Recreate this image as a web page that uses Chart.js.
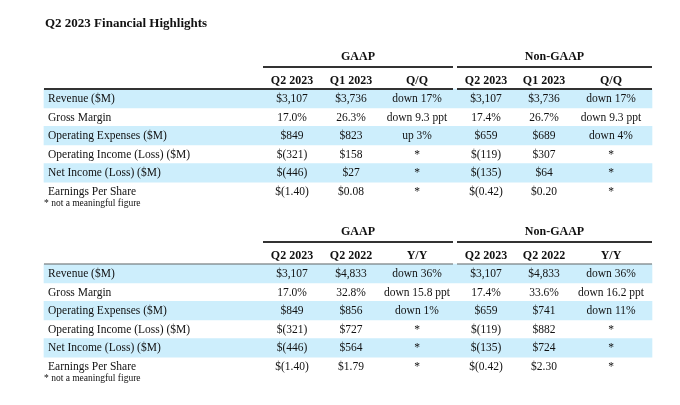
<!DOCTYPE html>
<html>
<head>
<meta charset="utf-8">
<title>Q2 2023 Financial Highlights</title>
<script src="https://cdn.jsdelivr.net/npm/chart.js@4/dist/chart.umd.min.js"></script>
<style>
    html, body { margin: 0; padding: 0; background: #ffffff; }
    #wrapper { width: 680px; height: 405px; }
</style>
</head>
<body>
<div id="wrapper"><canvas id="highlights" width="680" height="405"></canvas></div>
<script>
(function() {
    'use strict';

    // Table content
    const title = 'Q2 2023 Financial Highlights';
    const footnote = '* not a meaningful figure';
    const groupLabels = ['GAAP', 'Non-GAAP'];
    const rowLabels = [
        'Revenue ($M)',
        'Gross Margin',
        'Operating Expenses ($M)',
        'Operating Income (Loss) ($M)',
        'Net Income (Loss) ($M)',
        'Earnings Per Share'
    ];
    const qoqHeaders = ['Q2 2023', 'Q1 2023', 'Q/Q'];
    const yoyHeaders = ['Q2 2023', 'Q2 2022', 'Y/Y'];

    const gaapQ2_2023 = ['$3,107', '17.0%', '$849', '$(321)', '$(446)', '$(1.40)'];
    const gaapQ1_2023 = ['$3,736', '26.3%', '$823', '$158', '$27', '$0.08'];
    const gaapQoQ = ['down 17%', 'down 9.3 ppt', 'up 3%', '*', '*', '*'];
    const nonGaapQ2_2023 = ['$3,107', '17.4%', '$659', '$(119)', '$(135)', '$(0.42)'];
    const nonGaapQ1_2023 = ['$3,736', '26.7%', '$689', '$307', '$64', '$0.20'];
    const nonGaapQoQ = ['down 17%', 'down 9.3 ppt', 'down 4%', '*', '*', '*'];

    const gaapQ2_2022 = ['$4,833', '32.8%', '$856', '$727', '$564', '$1.79'];
    const gaapYoY = ['down 36%', 'down 15.8 ppt', 'down 1%', '*', '*', '*'];
    const nonGaapQ2_2022 = ['$4,833', '33.6%', '$741', '$882', '$724', '$2.30'];
    const nonGaapYoY = ['down 36%', 'down 16.2 ppt', 'down 11%', '*', '*', '*'];

    const tables = [
        {
            headers: qoqHeaders.concat(qoqHeaders),
            columns: [gaapQ2_2023, gaapQ1_2023, gaapQoQ, nonGaapQ2_2023, nonGaapQ1_2023, nonGaapQoQ]
        },
        {
            headers: yoyHeaders.concat(yoyHeaders),
            columns: [gaapQ2_2023, gaapQ2_2022, gaapYoY, nonGaapQ2_2023, nonGaapQ2_2022, nonGaapYoY]
        }
    ];

    // Geometry, in scale units (the scales map one unit to one pixel)
    const layout = {
        firstRow: [99, 274],
        rowPitch: 18.6,
        groupOffset: -42,
        groupRuleOffset: -32,
        headerOffset: -18,
        headerRuleOffset: -10,
        footOffset: 11,
        left: 44,
        right: 652,
        labelX: 48,
        colX: [292, 351, 417, 486, 544, 611],
        groupSpans: [[263, 453], [457, 652]],
        titleX: 45,
        titleY: 24
    };

    const colors = {
        band: '#cdeefc',
        text: '#111111',
        rule: '#333333',
        thinRule: '#666666'
    };

    const serif = '"Liberation Serif", "Times New Roman", serif';

    function rowY(t, i) {
        return layout.firstRow[t] + i * layout.rowPitch;
    }

    // Shaded bands on every other row, drawn as floating horizontal bars
    const bands = [];
    tables.forEach(function(tbl, t) {
        rowLabels.forEach(function(label, i) {
            if (i % 2 === 0) {
                bands.push({ x: [layout.left, layout.right], y: rowY(t, i) - 0.5 });
            }
        });
    });

    /**
     * Draws title, headers, rules and cell text through the chart scales
     */
    const tablePlugin = {
        id: 'tableText',
        afterDatasetsDraw: function(chart) {
            const ctx = chart.ctx;
            const xs = chart.scales.x;
            const ys = chart.scales.y;
            const px = function(v) { return xs.getPixelForValue(v); };
            const py = function(v) { return ys.getPixelForValue(v); };

            ctx.save();
            ctx.fillStyle = colors.text;
            ctx.textBaseline = 'middle';

            // Title
            ctx.font = 'bold 13px ' + serif;
            ctx.textAlign = 'left';
            ctx.fillText(title, px(layout.titleX), py(layout.titleY));

            tables.forEach(function(tbl, t) {
                const top = layout.firstRow[t];

                // Group headers and their rules
                ctx.font = 'bold 12px ' + serif;
                ctx.textAlign = 'center';
                groupLabels.forEach(function(g, k) {
                    const span = layout.groupSpans[k];
                    ctx.fillText(g, px((span[0] + span[1]) / 2), py(top + layout.groupOffset));
                    ctx.strokeStyle = colors.rule;
                    ctx.lineWidth = 2;
                    ctx.beginPath();
                    ctx.moveTo(px(span[0]), py(top + layout.groupRuleOffset));
                    ctx.lineTo(px(span[1]), py(top + layout.groupRuleOffset));
                    ctx.stroke();
                });

                // Column headers
                tbl.headers.forEach(function(h, c) {
                    ctx.fillText(h, px(layout.colX[c]), py(top + layout.headerOffset));
                });

                // Rule under the column headers
                ctx.strokeStyle = t === 0 ? colors.rule : colors.thinRule;
                ctx.lineWidth = t === 0 ? 2 : 1.2;
                ctx.beginPath();
                ctx.moveTo(px(layout.left), py(top + layout.headerRuleOffset));
                ctx.lineTo(px(layout.groupSpans[0][1]), py(top + layout.headerRuleOffset));
                ctx.moveTo(px(layout.groupSpans[1][0]), py(top + layout.headerRuleOffset));
                ctx.lineTo(px(layout.groupSpans[1][1]), py(top + layout.headerRuleOffset));
                ctx.stroke();

                // Row labels
                ctx.font = '11.5px ' + serif;
                ctx.textAlign = 'left';
                rowLabels.forEach(function(label, i) {
                    ctx.fillText(label, px(layout.labelX), py(rowY(t, i)));
                });

                // Cell values
                ctx.textAlign = 'center';
                tbl.columns.forEach(function(col, c) {
                    col.forEach(function(v, i) {
                        ctx.fillText(v, px(layout.colX[c]), py(rowY(t, i)));
                    });
                });

                // Footnote
                ctx.font = '9.5px ' + serif;
                ctx.textAlign = 'left';
                ctx.fillText(footnote, px(layout.left), py(rowY(t, rowLabels.length - 1) + layout.footOffset));
            });

            ctx.restore();
        }
    };

    function init() {
        const canvas = document.getElementById('highlights');
        new Chart(canvas, {
            type: 'bar',
            data: {
                datasets: [{
                    data: bands,
                    backgroundColor: colors.band,
                    borderWidth: 0,
                    barThickness: layout.rowPitch
                }]
            },
            options: {
                indexAxis: 'y',
                responsive: false,
                animation: false,
                devicePixelRatio: 1,
                layout: { padding: 0 },
                plugins: {
                    legend: { display: false },
                    tooltip: { enabled: false }
                },
                scales: {
                    x: { type: 'linear', display: false, min: 0, max: 680, offset: false },
                    y: { type: 'linear', display: false, min: 0, max: 405, reverse: true, offset: false }
                }
            },
            plugins: [tablePlugin]
        });
    }

    if (document.readyState === 'loading') {
        document.addEventListener('DOMContentLoaded', init);
    } else {
        init();
    }
})();
</script>
</body>
</html>
